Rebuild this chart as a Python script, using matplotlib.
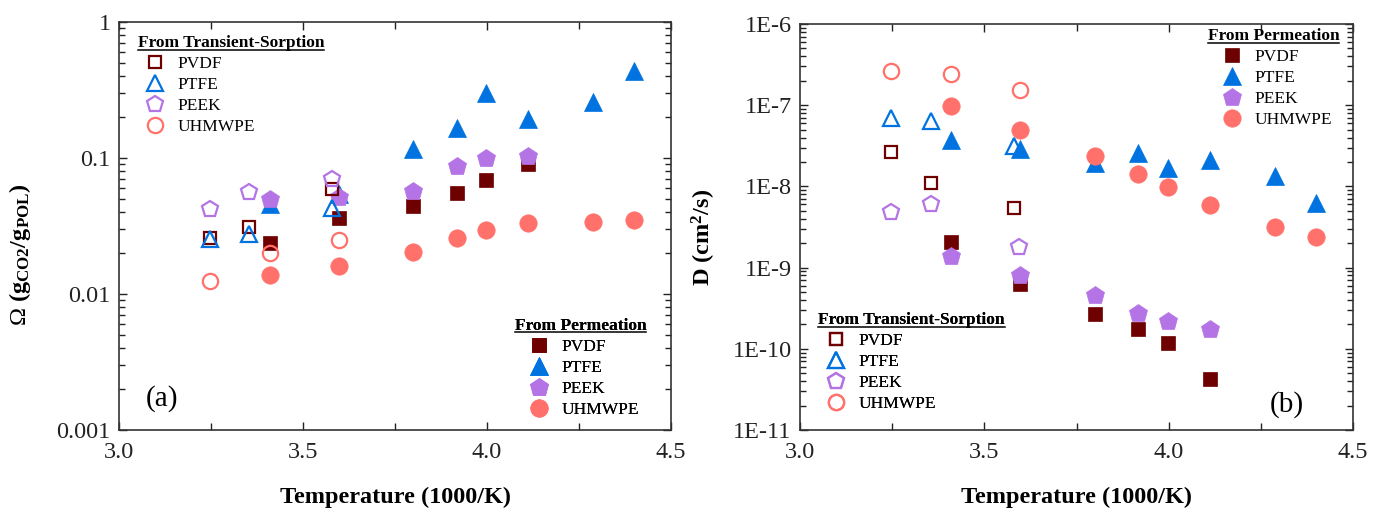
import numpy as np
import matplotlib
matplotlib.use("Agg")
import matplotlib.pyplot as plt
from matplotlib.ticker import LogLocator, FuncFormatter, MultipleLocator, NullFormatter
from matplotlib.lines import Line2D

plt.rcParams['font.family'] = ['Liberation Serif', 'DejaVu Serif']
plt.rcParams['mathtext.fontset'] = 'custom'
plt.rcParams['mathtext.rm'] = 'Liberation Serif'
plt.rcParams['mathtext.bf'] = 'Liberation Serif:bold'
plt.rcParams['mathtext.it'] = 'Liberation Serif:italic'

# ---------------- data ----------------
polymers = ["PVDF", "PTFE", "PEEK", "UHMWPE"]
colors = {"PVDF": "#6E0000", "PTFE": "#0073E0", "PEEK": "#B574E6", "UHMWPE": "#FF716A"}
markers = {"PVDF": "s", "PTFE": "^", "PEEK": "p", "UHMWPE": "o"}
msizes = {"PVDF": 10.5, "PTFE": 13.5, "PEEK": 13.5, "UHMWPE": 12.5}

# temperatures (1000/K)
T_perm = [3.41, 3.597, 3.80, 3.918, 3.997, 4.112, 4.288, 4.40]
T_ts = [3.247, 3.354, 3.58]
T_ts_peek_b = [3.247, 3.354, 3.594]
T_ts_uhmwpe = [3.247, 3.41, 3.597]

# panel (a): solubility Omega (g_CO2/g_POL)
omega_perm_pvdf = [0.0239, 0.0361, 0.0446, 0.0553, 0.0684, 0.0908]
omega_perm_ptfe = [0.046, 0.054, 0.117, 0.165, 0.301, 0.192, 0.260, 0.436]
omega_perm_peek = [0.050, 0.052, 0.057, 0.0868, 0.100, 0.103]
omega_perm_uhmwpe = [0.0137, 0.0162, 0.0204, 0.0257, 0.0295, 0.0334, 0.0341, 0.0353]
omega_ts_pvdf = [0.026, 0.0313, 0.0593]
omega_ts_ptfe = [0.0255, 0.0274, 0.0428]
omega_ts_peek = [0.0422, 0.0567, 0.0695]
omega_ts_uhmwpe = [0.01256, 0.0199, 0.0248]

# panel (b): diffusivity D (cm2/s)
D_perm_pvdf = [2.04e-9, 6.34e-10, 2.72e-10, 1.73e-10, 1.18e-10, 4.28e-11]
D_perm_ptfe = [3.75e-8, 2.86e-8, 1.96e-8, 2.55e-8, 1.67e-8, 2.11e-8, 1.34e-8, 6.2e-9]
D_perm_peek = [1.40e-9, 8.17e-10, 4.64e-10, 2.77e-10, 2.18e-10, 1.73e-10]
D_perm_uhmwpe = [9.7e-8, 5.02e-8, 2.37e-8, 1.42e-8, 9.76e-9, 5.9e-9, 3.2e-9, 2.41e-9]
D_ts_pvdf = [2.65e-8, 1.09e-8, 5.38e-9]
D_ts_ptfe = [7.0e-8, 6.37e-8, 3.14e-8]
D_ts_peek = [4.9e-9, 6.08e-9, 1.79e-9]
D_ts_uhmwpe = [2.64e-7, 2.45e-7, 1.56e-7]

xticks = [3.0, 3.5, 4.0, 4.5]

# ---------------- figure ----------------
fig = plt.figure(figsize=(13.84, 5.12), dpi=100)
axA = fig.add_axes([119/1384, 82/512, 552/1384, 408/512])
axB = fig.add_axes([800/1384, 82/512, 553/1384, 406/512])

TICK_FS = 17.5
LAB_FS = 17.5
LEG_FS = 12.5
TITLE_FS = 12.5


def series(ax, x, y, poly, filled):
    c = colors[poly]
    if filled:
        h, = ax.plot(x, y, linestyle='none', marker=markers[poly], ms=msizes[poly],
                     mfc=c, mec=c, mew=0.5, label=poly)
    else:
        h, = ax.plot(x, y, linestyle='none', marker=markers[poly], ms=msizes[poly] - 1.5,
                     mfc='none', mec=c, mew=1.6, label=poly)
    return h


def style_axis(ax):
    ax.set_xlim(3.0, 4.5)
    ax.set_xticks(xticks)
    ax.xaxis.set_minor_locator(MultipleLocator(0.25))
    ax.xaxis.set_minor_formatter(NullFormatter())
    ax.xaxis.set_major_formatter(FuncFormatter(lambda v, p: f"{v:.1f}"))
    ax.yaxis.set_minor_locator(LogLocator(base=10, subs=np.arange(2, 10)))
    ax.yaxis.set_minor_formatter(NullFormatter())
    ax.tick_params(which='both', direction='in', top=True, right=True, labelsize=TICK_FS,
                   width=1.0, colors='#222222')
    ax.tick_params(which='major', length=6, pad=6)
    ax.tick_params(axis='x', which='major', pad=9)
    ax.tick_params(which='minor', length=4)
    ax.tick_params(axis='x', which='minor', length=5)
    for s in ax.spines.values():
        s.set_linewidth(1.2)
        s.set_color('#333333')
    ax.set_xlabel("Temperature (1000/K)", fontsize=LAB_FS, fontweight='bold', labelpad=17)


# panel a
ha_perm = [series(axA, T_perm[:6], omega_perm_pvdf, "PVDF", True),
           series(axA, T_perm, omega_perm_ptfe, "PTFE", True),
           series(axA, T_perm[:6], omega_perm_peek, "PEEK", True),
           series(axA, T_perm, omega_perm_uhmwpe, "UHMWPE", True)]
ha_ts = [series(axA, T_ts, omega_ts_pvdf, "PVDF", False),
         series(axA, T_ts, omega_ts_ptfe, "PTFE", False),
         series(axA, T_ts, omega_ts_peek, "PEEK", False),
         series(axA, T_ts_uhmwpe, omega_ts_uhmwpe, "UHMWPE", False)]
axA.set_yscale('log')
axA.set_ylim(0.001, 1)
style_axis(axA)
axA.yaxis.set_major_formatter(FuncFormatter(lambda v, p: f"{v:g}"))
axA.set_ylabel(r"$\Omega$ ($\mathbf{g_{CO2}/g_{POL}}$)", fontsize=LAB_FS, fontweight='bold')
axA.yaxis.set_label_coords(-0.155, 0.43)
axA.text(0.078, 0.076, "(a)", transform=axA.transAxes, fontsize=21, ha='center', va='center')

# panel b
hb_perm = [series(axB, T_perm[:6], D_perm_pvdf, "PVDF", True),
           series(axB, T_perm, D_perm_ptfe, "PTFE", True),
           series(axB, T_perm[:6], D_perm_peek, "PEEK", True),
           series(axB, T_perm, D_perm_uhmwpe, "UHMWPE", True)]
hb_ts = [series(axB, T_ts, D_ts_pvdf, "PVDF", False),
         series(axB, T_ts, D_ts_ptfe, "PTFE", False),
         series(axB, T_ts_peek_b, D_ts_peek, "PEEK", False),
         series(axB, T_ts_uhmwpe, D_ts_uhmwpe, "UHMWPE", False)]
axB.set_yscale('log')
axB.set_ylim(1e-11, 1e-6)
style_axis(axB)
axB.yaxis.set_major_formatter(FuncFormatter(lambda v, p: f"1E{int(round(np.log10(v)))}"))
axB.set_ylabel(r"D (cm$^{\mathbf{2}}$/s)", fontsize=LAB_FS, fontweight='bold')
axB.yaxis.set_label_coords(-0.148, 0.475)
axB.text(0.881, 0.062, "(b)", transform=axB.transAxes, fontsize=21, ha='center', va='center')


def make_legend(ax, handles, title, loc, anchor, align):
    leg = ax.legend(handles=handles, labels=polymers, title=title, loc=loc,
                    bbox_to_anchor=anchor, frameon=False, fontsize=LEG_FS,
                    title_fontproperties={'weight': 'bold', 'size': TITLE_FS, 'family': 'Liberation Serif'},
                    borderpad=0, borderaxespad=0, handlelength=2.0, handletextpad=0.3,
                    labelspacing=0.28, alignment=align)
    ax.add_artist(leg)
    return leg


legs = [make_legend(axA, ha_ts, "From Transient-Sorption", 'upper left', (0.034, 0.968), 'left'),
        make_legend(axA, ha_perm, "From Permeation", 'lower right', (0.955, 0.03), 'center'),
        make_legend(axB, hb_perm, "From Permeation", 'upper right', (0.975, 0.99), 'center'),
        make_legend(axB, hb_ts, "From Transient-Sorption", 'upper left', (0.033, 0.29), 'left')]

fig.canvas.draw()
renderer = fig.canvas.get_renderer()
W, H = fig.canvas.get_width_height()
for leg in legs:
    bb = leg.get_title().get_window_extent(renderer)
    y = bb.y0 + 1.5
    fig.add_artist(Line2D([bb.x0 / W, bb.x1 / W], [y / H, y / H], transform=fig.transFigure,
                          color='black', lw=1.1))

fig.savefig("out.png", dpi=100)
